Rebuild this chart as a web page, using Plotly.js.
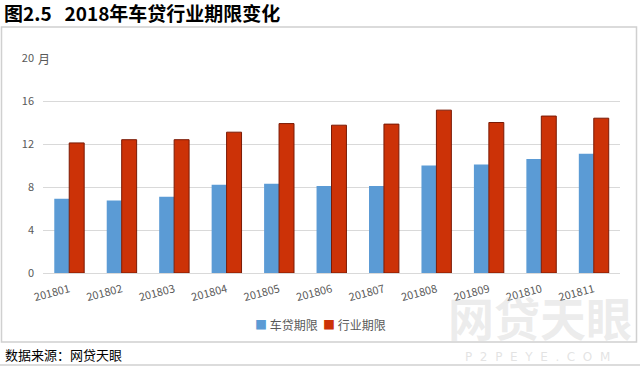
<!DOCTYPE html>
<html>
<head>
<meta charset="utf-8">
<script src="https://cdn.plot.ly/plotly-3.0.1.min.js"></script>
<style>
html,body{margin:0;padding:0;background:#fff;}
#chart{width:640px;height:366px;}
</style>
</head>
<body>
<div id="chart"></div>
<script>
const categories = ["201801","201802","201803","201804","201805","201806","201807","201808","201809","201810","201811"];
const carLoanTerm = [6.9, 6.75, 7.1, 8.2, 8.3, 8.1, 8.1, 10.0, 10.1, 10.6, 11.1];
const industryTerm = [12.1, 12.4, 12.4, 13.1, 13.9, 13.75, 13.85, 15.15, 14.0, 14.6, 14.4];
const yTicks = [0, 4, 8, 12, 16, 20];
const seriesNames = ["车贷期限", "行业期限"];
const seriesColors = ["#5B9BD5", "#CC3207"];

const font = "'Noto Sans CJK SC', 'Noto Sans', sans-serif";

const traces = [
  {
    type: "bar", name: seriesNames[0], x: categories, y: carLoanTerm,
    marker: {color: seriesColors[0], line: {width: 0}}
  },
  {
    type: "bar", name: seriesNames[1], x: categories, y: industryTerm,
    marker: {color: seriesColors[1], line: {color: "#7a1a05", width: 1}}
  }
];

const L = 43, R = 20, T = 58, B = 93, W = 640, H = 366;
const pw = W - L - R, ph = H - T - B;
const px = v => (v - L) / pw;
const py = v => 1 - (v - T) / ph;

const legendText =
  `<span style="color:${seriesColors[0]}">■</span> ${seriesNames[0]}&nbsp;&nbsp;` +
  `<span style="color:${seriesColors[1]}">■</span> ${seriesNames[1]}`;

const layout = {
  width: W, height: H,
  margin: {l: L, r: R, t: T, b: B, pad: 0},
  paper_bgcolor: "#ffffff", plot_bgcolor: "#ffffff",
  font: {family: font, color: "#595959", size: 11},
  barmode: "group", bargap: 0.43, bargroupgap: 0,
  showlegend: false,
  xaxis: {
    type: "category", tickangle: -15, showgrid: false, showline: false, zeroline: false,
    ticks: "", ticklabelstandoff: 7, tickfont: {size: 11, color: "#595959"}, fixedrange: true
  },
  yaxis: {
    range: [0, 20], tickvals: yTicks, ticktext: yTicks.map(String),
    showgrid: true, gridcolor: "#d9d9d9", gridwidth: 1, zeroline: true, zerolinecolor: "#d9d9d9",
    showline: false, ticks: "", ticklabelstandoff: 8, tickfont: {size: 11, color: "#595959"}, fixedrange: true
  },
  title: {
    text: "<b>图2.5&nbsp;&nbsp;&nbsp;2018年车贷行业期限变化</b>",
    x: 4 / W, xanchor: "left", xref: "container", y: 1 - 14 / H, yref: "container", yanchor: "middle",
    font: {family: font, size: 19, color: "#000000"}
  },
  shapes: [
    {type: "rect", xref: "paper", yref: "paper", x0: px(1.5), x1: px(636.5), y0: py(342), y1: py(27),
     line: {color: "#d0d0d0", width: 1.5}, fillcolor: "rgba(0,0,0,0)", layer: "below"},
    {type: "line", xref: "paper", yref: "paper", x0: px(0), x1: px(640), y0: py(365), y1: py(365),
     line: {color: "#d0d0d0", width: 1.5}}
  ],
  annotations: [
    {text: "<b>网贷天眼</b>", xref: "paper", yref: "paper", x: px(540), y: py(316), xanchor: "center", yanchor: "middle",
     showarrow: false, font: {size: 46, color: "rgba(200,200,200,0.35)"}},
    {text: "P  2  P  E  Y  E  .  C  O  M", xref: "paper", yref: "paper", x: px(537), y: py(357), xanchor: "center", yanchor: "middle",
     showarrow: false, font: {size: 12, color: "rgba(200,200,200,0.5)", family: "'DejaVu Sans', sans-serif"}},
    {text: "月", xref: "paper", yref: "y", x: px(36), y: 20, xanchor: "left", yanchor: "middle",
     showarrow: false, bgcolor: "#ffffff", font: {size: 12, color: "#595959"}},
    {text: legendText, xref: "paper", yref: "paper", x: px(320), y: py(324), xanchor: "center", yanchor: "middle",
     showarrow: false, font: {size: 12, color: "#595959"}},
    {text: "数据来源：网贷天眼", xref: "paper", yref: "paper", x: px(3), y: py(354), xanchor: "left", yanchor: "middle",
     showarrow: false, font: {size: 13, color: "#000000"}}
  ]
};

Plotly.newPlot("chart", traces, layout, {staticPlot: true, displayModeBar: false});
</script>
</body>
</html>
